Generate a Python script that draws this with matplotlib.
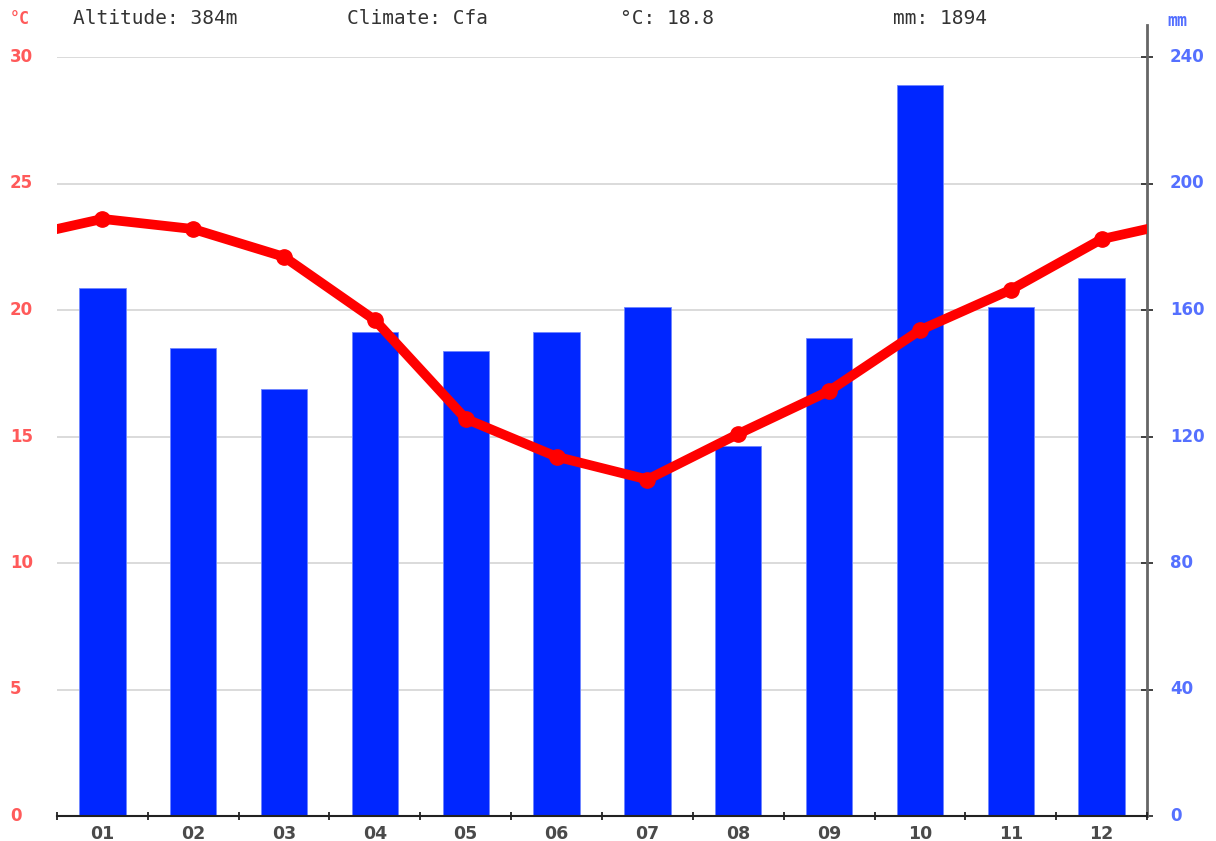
import matplotlib
matplotlib.use("Agg")
import matplotlib.pyplot as plt

# climate data
months = ["01", "02", "03", "04", "05", "06", "07", "08", "09", "10", "11", "12"]
precip_mm = [167, 148, 135, 153, 147, 153, 161, 117, 151, 231, 161, 170]
temp_c = [23.6, 23.2, 22.1, 19.6, 15.7, 14.2, 13.3, 15.1, 16.8, 19.2, 20.8, 22.8]
temp_ticks = [0, 5, 10, 15, 20, 25, 30]
mm_ticks = [0, 40, 80, 120, 160, 200, 240]
header = ["Altitude: 384m", "Climate: Cfa", "°C: 18.8", "mm: 1894"]

W, H = 1216, 841
RED = "#ff0000"
BLUE = "#0026ff"
LRED = "#ff5a5a"
LBLUE = "#5570ff"
mono = "DejaVu Sans Mono"
sans = "DejaVu Sans"

fig = plt.figure(figsize=(W / 100, H / 100), dpi=100)
ax = fig.add_axes([57 / W, 1 - 816 / H, (1147 - 57) / W, (816 - 57) / H])
ax2 = ax.twinx()

x = list(range(1, 13))
ax2.bar(x, precip_mm, width=0.51, color=BLUE, edgecolor="#6f86ff", linewidth=0.6, zorder=2)
ax2.set_ylim(0, 240)
ax2.set_yticks(mm_ticks)

# temperature line wraps around the year so it runs to both edges
xl = [0] + x + [13]
yl = [temp_c[-1]] + temp_c + [temp_c[0]]
ax.plot(xl, yl, color=RED, linewidth=7, solid_capstyle="butt", zorder=5)
ax.plot(x, temp_c, "o", color=RED, markersize=11, zorder=6)
ax.set_xlim(0.5, 12.5)
ax.set_ylim(0, 30)
ax.set_yticks(temp_ticks)

# red line in front of bars
ax.set_zorder(ax2.get_zorder() + 1)
ax.patch.set_visible(False)

for t in temp_ticks[1:]:
    ax2.axhline(t * 8, color="#d4d4d4", linewidth=1.2, zorder=0)

for a in (ax, ax2):
    for s in ("top", "left", "right", "bottom"):
        a.spines[s].set_visible(False)

ax.spines["bottom"].set_visible(True)
ax.spines["bottom"].set_color("#222222")
ax.spines["bottom"].set_linewidth(1.5)
ax.set_xticks([i + 0.5 for i in range(0, 13)])
ax.set_xticklabels([""] * 13)
ax.tick_params(axis="x", direction="inout", length=6, width=1.3, color="#222222")
for i, m in enumerate(months):
    ax.text(i + 1, -0.35, m, ha="center", va="top", fontsize=12.5, color="#4a4a4a",
            family=sans, fontweight="bold")

ax.tick_params(axis="y", length=0, pad=0)
ax.set_yticklabels([])
for t in temp_ticks:
    fig.text(10 / W, 1 - (816 - t * 759 / 30) / H, str(t), ha="left", va="center",
             fontsize=12, color=LRED, family=sans, fontweight="bold")

ax2.spines["right"].set_visible(True)
ax2.spines["right"].set_color("#666666")
ax2.spines["right"].set_linewidth(2)
ax2.tick_params(axis="y", direction="inout", length=8, width=1.3, color="#333333")
ax2.set_yticklabels([])
for t in mm_ticks:
    fig.text(1170 / W, 1 - (816 - t * 759 / 240) / H, str(t), ha="left", va="center",
             fontsize=12, color=LBLUE, family=sans, fontweight="bold")
ax2.set_ylim(0, 240)
ax2.spines["right"].set_bounds(0, 250)

fig.text(10 / W, 1 - 19 / H, "°C", ha="left", va="center", fontsize=12,
         color=LRED, family=mono, fontweight="bold")
fig.text(1167 / W, 1 - 21 / H, "mm", ha="left", va="center", fontsize=12,
         color=LBLUE, family=mono, fontweight="bold")
for xp, s in zip([73, 347, 620, 893], header):
    fig.text(xp / W, 1 - 19 / H, s, ha="left", va="center", fontsize=14,
             color="#333333", family=mono)

fig.savefig("out.png", dpi=100)
